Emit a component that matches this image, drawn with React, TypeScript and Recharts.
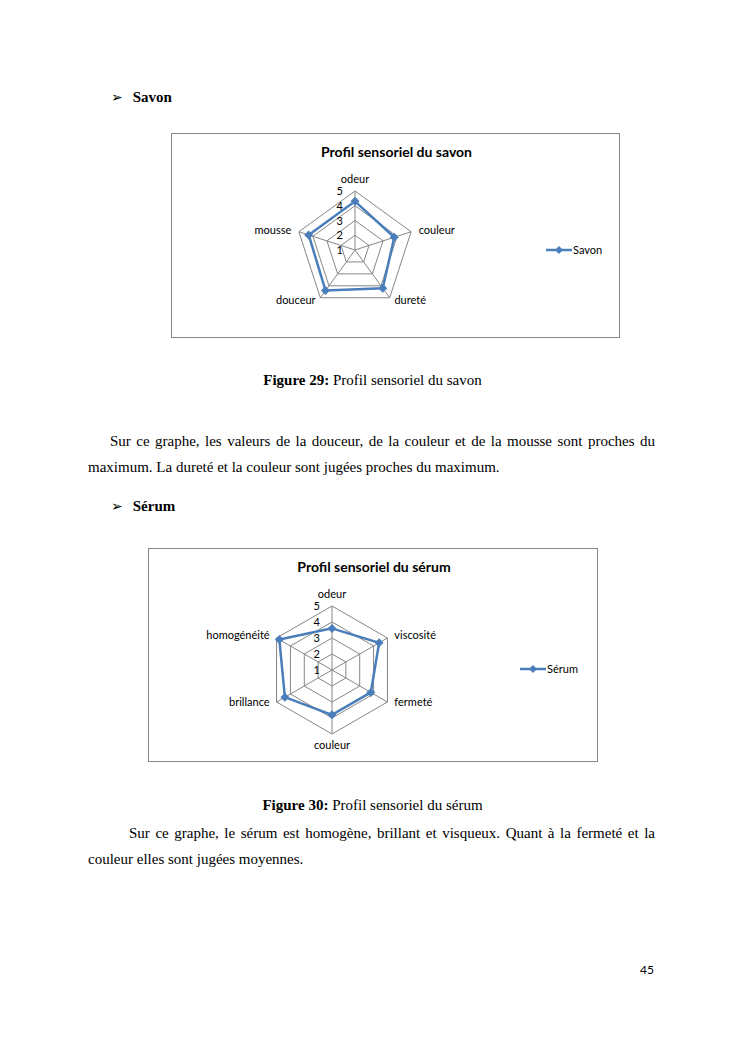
import React from 'react';
import { RadarChart, Radar, PolarGrid, PolarAngleAxis, PolarRadiusAxis, Legend } from 'recharts';

const savonCriteres = ['odeur', 'couleur', 'dureté', 'douceur', 'mousse'];
const savonNotes = [4.3, 3.8, 4.2, 4.4, 4.3];
const serumCriteres = ['odeur', 'viscosité', 'fermeté', 'couleur', 'brillance', 'homogénéité'];
const serumNotes = [3.6, 4.4, 3.8, 3.8, 4.4, 4.8];
const echelle = [1, 5];

const BLEU = '#4A7EBB';
const GRIS = '#868686';
const POLICE_GRAPHE = 'Lato, "Open Sans", sans-serif';
const POLICE_TEXTE = '"Liberation Serif", "Times New Roman", serif';

const Losange = (props: any) => {
	const { cx, cy, index } = props;
	return <polygon key={'d' + index} points={`${cx},${cy - 4.5} ${cx + 4.5},${cy} ${cx},${cy + 4.5} ${cx - 4.5},${cy}`} fill={BLEU} />;
};

const Graduation = (props: any) => {
	const { x, y, payload } = props;
	return (
		<text x={x - 12} y={y} dy={4} textAnchor='end' fontSize={11} fill='#000' fontFamily={POLICE_GRAPHE}>
			{payload.value}
		</text>
	);
};

const makeCritere = (cy: number, rayon: number) => (props: any) => {
	const { x, y, payload, textAnchor } = props;
	let dy = 0;
	if (y > cy + rayon * 0.95) dy = 7;
	else if (y > cy) dy = 0;
	else if (y > cy - rayon * 0.95) dy = 5;
	return (
		<text x={x} y={y} dy={dy} textAnchor={textAnchor} fontSize={11} fill='#000' fontFamily={POLICE_GRAPHE}>
			{payload.value}
		</text>
	);
};

const makeLegende = (nom: string) => () => (
	<div style={{ display: 'flex', alignItems: 'center', fontFamily: POLICE_GRAPHE, fontSize: 11, color: '#000' }}>
		<svg width={26} height={10}>
			<line x1={0} y1={5} x2={26} y2={5} stroke={BLEU} strokeWidth={2.5} />
			<polygon points='13,1 17,5 13,9 9,5' fill={BLEU} />
		</svg>
		<span style={{ marginLeft: 1 }}>{nom}</span>
	</div>
);

interface iGraphe {
	titre: string;
	nom: string;
	criteres: string[];
	notes: number[];
	left: number;
	top: number;
	width: number;
	height: number;
	cx: number;
	cy: number;
	rayon: number;
	legX: number;
	legY: number;
}

const Graphe = (p: iGraphe) => {
	const data = p.criteres.map((c, i) => ({ critere: c, note: p.notes[i] }));
	return (
		<div style={{ position: 'absolute', left: p.left, top: p.top, width: p.width, height: p.height, border: `1px solid ${GRIS}`, boxSizing: 'border-box', background: '#fff' }}>
			<div style={{ position: 'absolute', left: 0, top: 9, width: p.width, textAlign: 'center', fontFamily: POLICE_GRAPHE, fontWeight: 'bold', fontSize: 14 }}>{p.titre}</div>
			<RadarChart width={p.width - 2} height={p.height - 2} data={data} cx={p.cx} cy={p.cy} outerRadius={p.rayon} margin={{ top: 0, right: 0, bottom: 0, left: 0 }}>
				<PolarGrid gridType='polygon' stroke={GRIS} strokeWidth={1} />
				<PolarAngleAxis dataKey='critere' tick={makeCritere(p.cy, p.rayon + 8)} tickLine={false} axisLine={false} />
				<PolarRadiusAxis angle={90} domain={echelle} tickCount={5} tick={Graduation} axisLine={false} tickLine={false} />
				<Legend content={makeLegende(p.nom)} wrapperStyle={{ position: 'absolute', left: p.legX, top: p.legY, width: 'auto', bottom: 'auto' }} />
				<Radar name={p.nom} dataKey='note' stroke={BLEU} strokeWidth={2.5} fill='none' dot={Losange} isAnimationActive={false} />
			</RadarChart>
		</div>
	);
};

const ligne = (texte: string, left: number, top: number, justifie: boolean) => (
	<div style={{ position: 'absolute', left, top, width: 655 - left, fontFamily: POLICE_TEXTE, fontSize: 15, lineHeight: '20px', textAlign: 'justify', textAlignLast: justifie ? 'justify' : 'left', whiteSpace: 'nowrap' as any }}>
		{texte}
	</div>
);

const Puce = ({ texte, top }: { texte: string; top: number }) => (
	<div style={{ position: 'absolute', left: 111, top, fontFamily: POLICE_TEXTE, fontSize: 15, lineHeight: '20px', fontWeight: 'bold' }}>
		<span style={{ fontFamily: '"DejaVu Sans"', fontWeight: 'normal', fontSize: 14 }}>➢</span>
		<span style={{ marginLeft: 10 }}>{texte}</span>
	</div>
);

const Legende = ({ num, texte, top }: { num: string; texte: string; top: number }) => (
	<div style={{ position: 'absolute', left: 0, top, width: 745, textAlign: 'center', fontFamily: POLICE_TEXTE, fontSize: 15, lineHeight: '20px' }}>
		<b>Figure {num}:</b> {texte}
	</div>
);

export default function App() {
	return (
		<div style={{ position: 'absolute', left: 0, top: 0, width: 745, height: 1053, background: '#fff', color: '#000' }}>
			<Puce texte='Savon' top={87} />
			<Graphe titre='Profil sensoriel du savon' nom='Savon' criteres={savonCriteres} notes={savonNotes} left={171} top={133} width={449} height={205} cx={183} cy={116} rayon={59} legX={374} legY={109} />
			<Legende num='29' texte='Profil sensoriel du savon' top={370} />
			<div style={{ position: 'absolute', left: 110, top: 431, width: 545, fontFamily: POLICE_TEXTE, fontSize: 15, lineHeight: '20px', textAlign: 'justify', textAlignLast: 'justify' }}>
				Sur ce graphe, les valeurs de la douceur, de la couleur et de la mousse sont proches du
			</div>
			{ligne('maximum. La dureté et la couleur sont jugées proches du maximum.', 88, 457, false)}
			<Puce texte='Sérum' top={496} />
			<Graphe titre='Profil sensoriel du sérum' nom='Sérum' criteres={serumCriteres} notes={serumNotes} left={148} top={548} width={450} height={214} cx={183} cy={121} rayon={64} legX={371} legY={113} />
			<Legende num='30' texte='Profil sensoriel du sérum' top={795} />
			<div style={{ position: 'absolute', left: 129, top: 823, width: 526, fontFamily: POLICE_TEXTE, fontSize: 15, lineHeight: '20px', textAlign: 'justify', textAlignLast: 'justify' }}>
				Sur ce graphe, le sérum est homogène, brillant et visqueux. Quant à la fermeté et la
			</div>
			{ligne('couleur elles sont jugées moyennes.', 88, 849, false)}
			<div style={{ position: 'absolute', left: 640, top: 962, fontFamily: POLICE_GRAPHE, fontSize: 12 }}>45</div>
		</div>
	);
}
